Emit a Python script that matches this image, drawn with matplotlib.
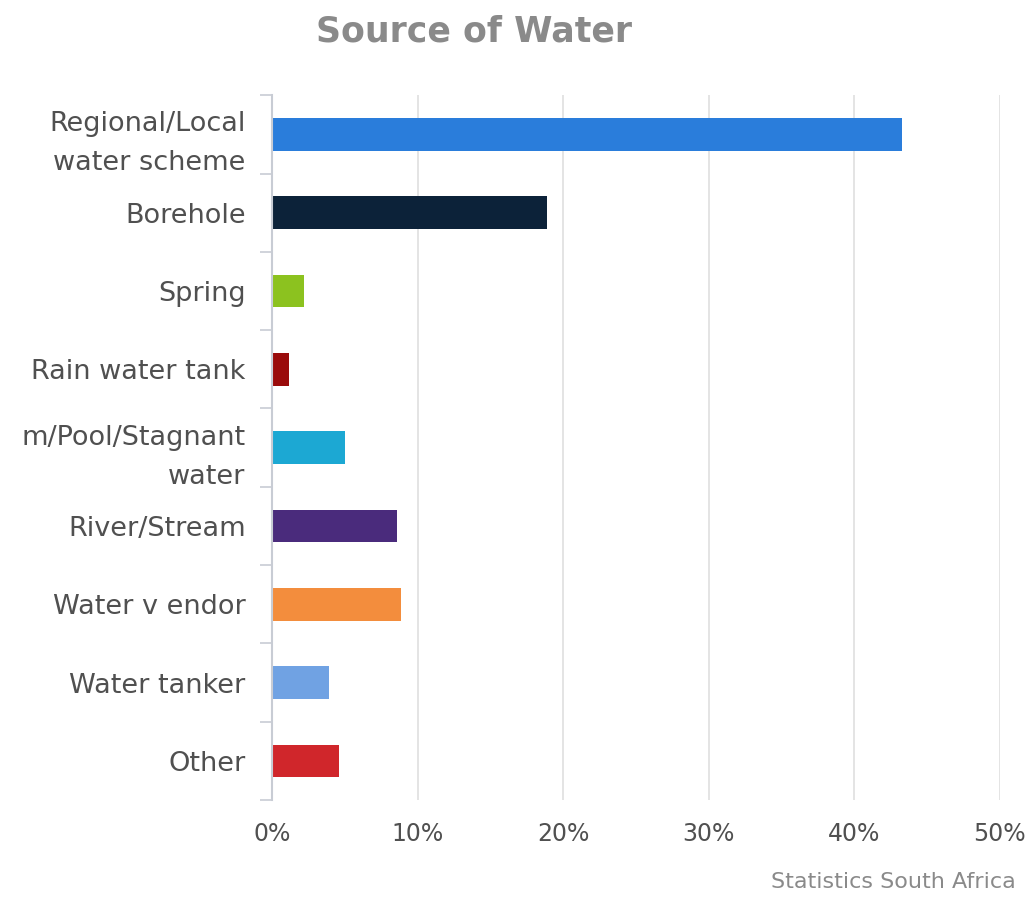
import numpy as np
from matplotlib import pyplot as plt
from matplotlib.ticker import FixedLocator, PercentFormatter

categories = ["Regional/Local\nwater scheme", "Borehole", "Spring", "Rain water tank",
              "m/Pool/Stagnant\nwater", "River/Stream", "Water v endor", "Water tanker", "Other"]
values = [43.3, 18.9, 2.2, 1.2, 5.0, 8.6, 8.9, 3.9, 4.6]
colors = ["#2a7ddb", "#0c2239", "#8cc21f", "#9a0b0b", "#1ca8d3",
          "#4a2b7c", "#f38d3d", "#70a2e3", "#d0262b"]
xticks = [0, 10, 20, 30, 40, 50]

fig = plt.figure(figsize=(10.36, 8.98), dpi=100)
ax = fig.add_axes([0.2625, 0.109, 0.7025, 0.785])

y = np.arange(len(categories))
ax.barh(y, values, height=0.42, color=colors, zorder=3)
ax.set_ylim(len(categories) - 0.5, -0.5)
ax.set_xlim(0, 50)

ax.set_yticks(y)
ax.set_yticklabels(categories, fontsize=19.5, color="#505050", linespacing=1.65)
ax.yaxis.set_minor_locator(FixedLocator(np.arange(-0.5, len(categories), 1)))
ax.tick_params(axis="y", which="major", length=0, pad=19)
ax.tick_params(axis="y", which="minor", length=9, color="#c8ccd4", width=1.2)

ax.set_xticks(xticks)
ax.xaxis.set_major_formatter(PercentFormatter(decimals=0))
ax.tick_params(axis="x", length=0, labelsize=17, labelcolor="#505050", pad=16)
ax.grid(axis="x", color="#e2e2e2", linewidth=1.3, zorder=0)

for s in ["top", "right", "bottom"]:
    ax.spines[s].set_visible(False)
ax.spines["left"].set_color("#c8ccd4")
ax.spines["left"].set_linewidth(1.5)
ax.spines["left"].set_zorder(4)

fig.text(0.458, 0.965, "Source of Water", ha="center", va="center",
         fontsize=25, fontweight="bold", color="#8a8a8a")
fig.text(0.98, 0.018, "Statistics South Africa", ha="right", va="center",
         fontsize=16, color="#8a8a8a")

fig.savefig("out.png", dpi=100)
